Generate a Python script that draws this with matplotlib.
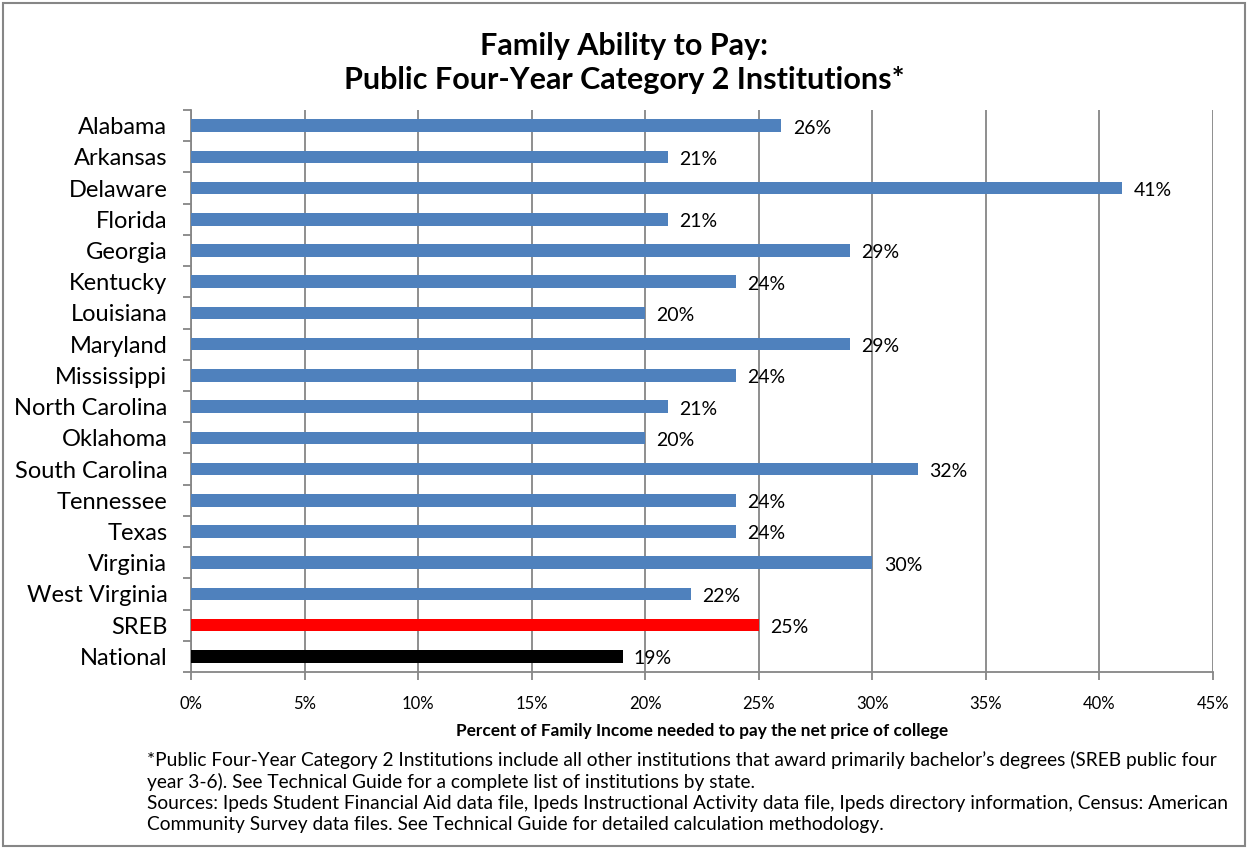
"""Family ability to pay: public four-year category 2 institutions, horizontal bars."""

import matplotlib

matplotlib.use("Agg")
import matplotlib.pyplot as plt
from matplotlib.patches import Rectangle
from matplotlib.ticker import FuncFormatter, MultipleLocator

# ---------------------------------------------------------------------------
# Data
# ---------------------------------------------------------------------------
STATES = [
    "Alabama", "Arkansas", "Delaware", "Florida", "Georgia", "Kentucky",
    "Louisiana", "Maryland", "Mississippi", "North Carolina", "Oklahoma",
    "South Carolina", "Tennessee", "Texas", "Virginia", "West Virginia",
    "SREB", "National",
]
PCT = [26, 21, 41, 21, 29, 24, 20, 29, 24, 21, 20, 32, 24, 24, 30, 22, 25, 19]

BLUE = "#4F81BD"
BAR_COLORS = [BLUE] * 16 + ["#FF0000", "#000000"]
GRID = "#868686"

TITLE = "Family Ability to Pay:\nPublic Four-Year Category 2 Institutions*"
XLABEL = "Percent of Family Income needed to pay the net price of college"
FOOTNOTE = (
    "*Public Four-Year Category 2 Institutions include all other institutions that award "
    "primarily bachelor\u2019s degrees (SREB public four\n"
    "year 3-6). See Technical Guide for a complete list of institutions by state.\n"
    "Sources: Ipeds Student Financial Aid data file, Ipeds Instructional Activity data file, "
    "Ipeds directory information, Census: American\n"
    "Community Survey data files. See Technical Guide for detailed calculation methodology."
)

plt.rcParams["font.family"] = ["Lato", "DejaVu Sans"]

W, H = 1249, 849
fig = plt.figure(figsize=(W / 100, H / 100), dpi=100, facecolor="white")
ax = fig.add_axes([191 / W, 1 - 672 / H, (1213 - 191) / W, (672 - 110) / H])

y = list(range(len(STATES)))
ax.barh(y, PCT, height=0.4, color=BAR_COLORS, edgecolor="none", zorder=3)
ax.set_ylim(len(STATES) - 0.5, -0.5)
ax.set_xlim(0, 45)

for yi, v in zip(y, PCT):
    ax.text(v + 0.5, yi + 0.08, f"{v}%", va="center", ha="left",
            fontsize=14, color="black", zorder=4)

ax.xaxis.set_major_locator(MultipleLocator(5))
ax.xaxis.set_major_formatter(FuncFormatter(lambda x, _: f"{x:.0f}%"))
ax.xaxis.grid(True, color=GRID, linewidth=1.3, zorder=0)
ax.set_axisbelow(True)

# category labels centred on bars, tick marks between categories
ax.set_yticks(y)
ax.set_yticklabels(STATES, fontsize=17)
ax.tick_params(axis="y", which="major", length=0, pad=17)
ax.set_yticks([i - 0.5 for i in range(len(STATES) + 1)], minor=True)
ax.tick_params(axis="y", which="minor", length=6, width=1.3, color=GRID,
               direction="out")
ax.tick_params(axis="x", length=6, width=1.3, color=GRID, labelsize=12,
               pad=11)

for name, spine in ax.spines.items():
    if name in ("top", "right"):
        spine.set_visible(False)
    else:
        spine.set_color(GRID)
        spine.set_linewidth(1.3)

ax.set_xlabel(XLABEL, fontsize=12.4, fontweight="bold", labelpad=8)

fig.text(0.5, 1 - 63 / H, TITLE, ha="center", va="center", fontsize=22,
         fontweight="bold", linespacing=1.28)
fig.text(147 / W, 1 - 792 / H, FOOTNOTE, ha="left", va="center",
         fontsize=13.8, linespacing=1.28)

# outer chart frame
fig.add_artist(Rectangle((3 / W, 3 / H), (W - 7) / W, (H - 6) / H,
                         transform=fig.transFigure, fill=False,
                         edgecolor=GRID, linewidth=1.5))

fig.savefig("out.png", dpi=100, facecolor="white")
